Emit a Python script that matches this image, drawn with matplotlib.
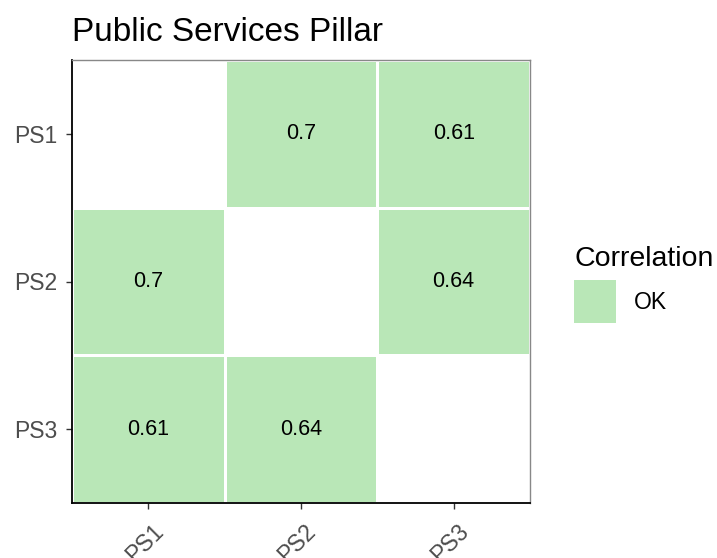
import matplotlib.pyplot as plt
import matplotlib.transforms as mtransforms
import numpy as np
from matplotlib.colors import ListedColormap
from matplotlib.patches import Patch

plt.rcParams['font.family'] = ['Liberation Sans', 'DejaVu Sans']

labels = ['PS1', 'PS2', 'PS3']
corr = [[np.nan, 0.7, 0.61],
        [0.7, np.nan, 0.64],
        [0.61, 0.64, np.nan]]
legend_title = 'Correlation'
legend_label = 'OK'
title = 'Public Services Pillar'

green = '#b9e7b7'

fig = plt.figure(figsize=(7.17, 5.58), dpi=100)
ax = fig.add_axes([72 / 717, 1 - 503 / 558, 458 / 717, 443 / 558])

z = np.ma.masked_invalid(np.array(corr))
ax.pcolormesh(np.arange(4) - 0.5, np.arange(4) - 0.5, z,
              cmap=ListedColormap([green]), edgecolors='white', linewidth=1.0)

for i in range(3):
    for j in range(3):
        v = corr[i][j]
        if not np.isnan(v):
            ax.text(j, i, f'{v:g}', ha='center', va='center', fontsize=15.5, color='black')

ax.set_xlim(-0.5, 2.5)
ax.set_ylim(2.5, -0.5)
ax.set_xticks(range(3))
ax.set_yticks(range(3))
ax.set_xticklabels(labels, rotation=45, ha='center', va='top')
ax.set_yticklabels(labels)
ax.tick_params(axis='x', length=4.3, width=1, color='#333333', labelcolor='#4d4d4d',
               labelsize=16.5, pad=8)
ax.tick_params(axis='y', length=4.3, width=1, color='#333333', labelcolor='#4d4d4d',
               labelsize=16.5, pad=6.5)
# nudge the rotated labels a little to the left
shift = mtransforms.ScaledTranslation(-4 / 100, 0, fig.dpi_scale_trans)
for lbl in ax.get_xticklabels():
    lbl.set_transform(lbl.get_transform() + shift)

for side in ['left', 'bottom']:
    ax.spines[side].set_linewidth(1.3)
    ax.spines[side].set_color('black')
for side in ['top', 'right']:
    ax.spines[side].set_linewidth(1.0)
    ax.spines[side].set_color('#888888')

ax.set_title(title, loc='left', fontsize=24, pad=14, color='black')

handles = [Patch(facecolor=green, edgecolor='none', label=legend_label)]
leg = fig.legend(handles=handles, title=legend_title, loc='upper left',
                 bbox_to_anchor=(574 / 717, 1 - 246 / 558), frameon=False,
                 fontsize=16.5, title_fontsize=20.5, handlelength=1.83, handleheight=2.51,
                 handletextpad=0.8, labelspacing=0.35, alignment='left',
                 borderaxespad=0, borderpad=0)

fig.savefig('out.png', dpi=100)
